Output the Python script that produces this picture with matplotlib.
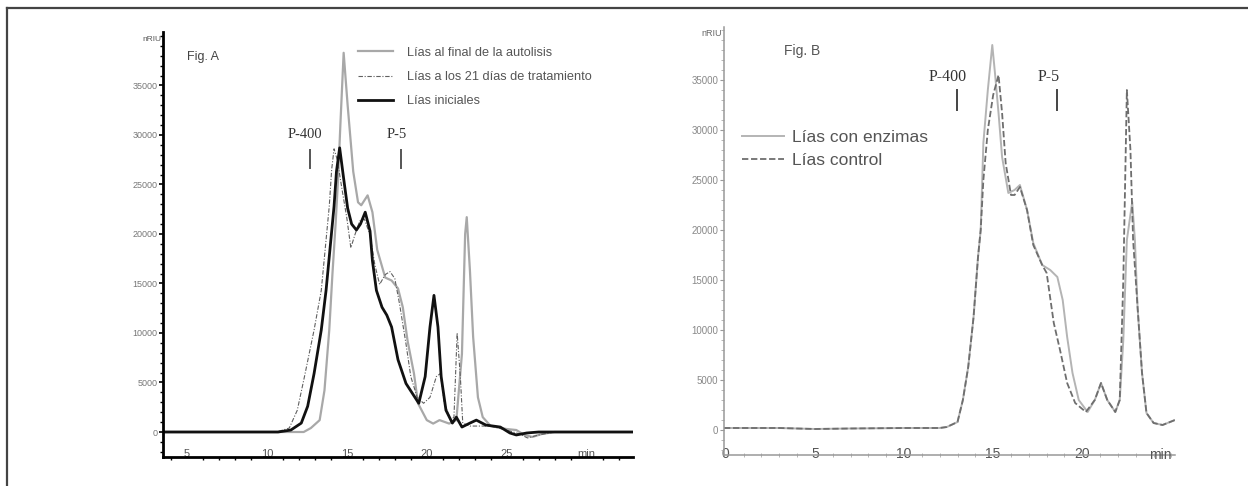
import numpy as np
import matplotlib
matplotlib.use('Agg')
import matplotlib.pyplot as plt
from matplotlib.lines import Line2D
from matplotlib.ticker import MultipleLocator

plt.rcParams['font.family'] = ['Liberation Sans', 'DejaVu Sans']

# ---- Fig. A data (time in min, signal in nRIU) ----
a_final_x = [3.5, 12.3, 12.75, 13.3, 13.6, 13.9, 14.1, 14.3, 14.45, 14.6, 14.8, 15.05, 15.4, 15.7, 15.9,
             16.3, 16.6, 16.9, 17.4, 17.8, 18.2, 18.5, 18.8, 19.2, 19.45, 20.0, 20.4, 20.8, 21.4, 21.85,
             22.2, 22.4, 22.5, 22.7, 22.9, 23.2, 23.5, 24.0, 25.0, 25.6, 26.1, 26.6, 27.2, 28.0, 33.0]
a_final_y = [0, 0, 400, 1200, 4200, 10300, 16000, 21100, 25500, 31200, 38300, 33000, 26300, 23200, 22900,
             23900, 22200, 18400, 15600, 15300, 14500, 12600, 9200, 5900, 2900, 1200, 850, 1200, 850, 1200,
             7900, 20000, 21700, 16300, 9600, 3500, 1500, 600, 300, 200, -300, -500, -200, 0, 0]

a_21d_x = [3.5, 10.6, 11.4, 11.9, 12.35, 12.95, 13.4, 13.7, 13.9, 14.05, 14.2, 14.4, 14.7, 15.0, 15.25, 15.5,
           15.8, 16.1, 16.45, 16.75, 17.05, 17.4, 17.7, 18.0, 18.3, 18.7, 19.0, 19.4, 19.8, 20.2, 20.6,
           20.85, 21.1, 21.5, 21.7, 21.9, 22.1, 22.25, 22.7, 24.0, 25.2, 25.8, 26.3, 27.0, 28.0, 33.0]
a_21d_y = [0, 0, 400, 2200, 5600, 10300, 14300, 19400, 22800, 26500, 28600, 27500, 24500, 21600, 18600, 19900,
           21300, 21500, 19900, 16900, 14900, 15900, 16200, 15500, 12900, 8900, 5600, 3500, 2900, 3500, 5600,
           5900, 2900, 1200, 1500, 10000, 5600, 900, 600, 600, 100, -200, -600, -300, 0, 0]

a_init_x = [3.5, 10.7, 11.5, 12.15, 12.55, 12.95, 13.4, 13.7, 14.0, 14.2, 14.35, 14.55, 14.8, 15.05, 15.3,
            15.6, 15.85, 16.15, 16.45, 16.6, 16.85, 17.2, 17.5, 17.8, 18.2, 18.7, 19.1, 19.5, 19.9, 20.2,
            20.45, 20.7, 20.9, 21.2, 21.6, 21.85, 22.2, 22.7, 23.1, 23.7, 24.6, 25.2, 25.6, 26.25, 27.0, 33.0]
a_init_y = [0, 0, 200, 900, 2600, 5900, 10300, 14300, 19400, 22800, 26300, 28700, 25600, 22600, 21000,
            20400, 21000, 22200, 20300, 17300, 14300, 12600, 11800, 10600, 7300, 4900, 3900, 2900, 5600, 10600,
            13800, 10600, 5600, 2200, 900, 1500, 500, 900, 1200, 700, 500, -100, -300, -100, 0, 0]

# ---- Fig. B data ----
b_enz_x = [-0.1, 3.0, 5.0, 7.0, 10.0, 12.0, 12.4, 13.0, 13.3, 13.6, 13.9, 14.15, 14.3, 14.45, 14.7, 14.95,
           15.1, 15.3, 15.5, 15.85, 16.2, 16.5, 16.9, 17.25, 17.75, 18.2, 18.6, 18.9, 19.15, 19.45, 19.8,
           20.3, 20.7, 21.05, 21.4, 21.85, 22.1, 22.3, 22.5, 22.8, 22.95, 23.1, 23.35, 23.6, 24.0, 24.5, 25.2]
b_enz_y = [200, 200, 100, 150, 200, 200, 300, 800, 3000, 6300, 11300, 17300, 20000, 28700, 34000, 38500,
           35700, 31700, 27300, 23700, 24000, 24500, 22000, 18700, 16500, 16000, 15300, 13000, 9300, 5700, 3000,
           1800, 3000, 4700, 3000, 1800, 3000, 9000, 19000, 22800, 19000, 12300, 5700, 1700, 700, 500, 1000]

b_ctl_x = [-0.1, 3.0, 5.0, 7.0, 10.0, 12.0, 12.4, 13.0, 13.3, 13.6, 13.9, 14.15, 14.3, 14.45, 14.7, 15.0,
           15.3, 15.5, 15.7, 16.0, 16.2, 16.5, 16.9, 17.25, 17.75, 18.0, 18.4, 18.75, 19.15, 19.6, 20.2,
           20.7, 21.05, 21.4, 21.85, 22.1, 22.3, 22.5, 22.7, 22.85, 23.1, 23.35, 23.6, 24.0, 24.5, 25.2]
b_ctl_y = [200, 200, 100, 150, 200, 200, 300, 800, 3000, 6300, 11300, 17300, 20000, 25000, 30000, 33500,
           35500, 31700, 26700, 23500, 23500, 24300, 22000, 18500, 16500, 15700, 10700, 8000, 4700, 2700, 1800,
           3000, 4700, 3000, 1800, 3000, 15000, 34000, 28000, 19000, 12300, 5700, 1700, 700, 500, 1000]

# standard markers (x position, label)
a_std_x = [12.7, 18.4]
b_std_x = [12.95, 18.6]
std_labels = ['P-400', 'P-5']

fig = plt.figure(figsize=(12.48, 4.86), dpi=100)

# page frame (top and left rules)
fig.add_artist(Line2D([7/1248, 7/1248], [0, 1 - 8.5/486], color='#444444', lw=1.6))
fig.add_artist(Line2D([7/1248, 1], [1 - 8.5/486, 1 - 8.5/486], color='#444444', lw=1.6))

# ---------------- Fig. A ----------------
axA = fig.add_axes([163/1248, 29/486, 470/1248, 425/486])
axA.plot(a_final_x, a_final_y, color='#a8a8a8', lw=1.6, label='Lías al final de la autolisis')
axA.plot(a_21d_x, a_21d_y, color='#606060', lw=0.8, dashes=(4, 1.5, 1, 1.5),
         label='Lías a los 21 días de tratamiento')
axA.plot(a_init_x, a_init_y, color='#111111', lw=2.0, label='Lías iniciales')
axA.set_xlim(3.5, 32.9)
axA.set_ylim(-2525, 40400)
for s in ['top', 'right']:
    axA.spines[s].set_visible(False)
for s in ['left', 'bottom']:
    axA.spines[s].set_linewidth(2)
axA.set_yticks(np.arange(0, 35001, 5000))
axA.set_yticklabels([str(v) for v in range(0, 35001, 5000)])
axA.yaxis.set_minor_locator(MultipleLocator(1000))
axA.set_xticks([5, 10, 15, 20, 25, 30])
axA.set_xticklabels(['5', '10', '15', '20', '25', 'min'])
axA.xaxis.set_minor_locator(MultipleLocator(1))
axA.tick_params(axis='y', which='major', labelsize=6.5, labelcolor='#777777', length=3, width=1.2, pad=1)
axA.tick_params(axis='y', which='minor', length=2, width=1)
axA.tick_params(axis='x', which='major', labelsize=8, labelcolor='#555555', length=0, pad=-6)
axA.tick_params(axis='x', which='minor', direction='out', length=2, width=1)
axA.text(-0.004, 39600, 'nRIU', transform=axA.get_yaxis_transform(), ha='right', va='center',
         fontsize=6, color='#555555')
axA.text(5.0, 37900, 'Fig. A', fontsize=9, color='#444444', va='center')
for xs, lab in zip(a_std_x, std_labels):
    axA.text(xs - 0.3, 30000, lab, family='Liberation Serif', fontsize=10.5, ha='center', va='center',
             color='#333333')
    axA.plot([xs, xs], [26700, 28500], color='#555555', lw=1.4)
legA = axA.legend(loc='upper left', bbox_to_anchor=(0.415, 0.965), frameon=False, fontsize=9.2,
                  handlelength=2.7, handletextpad=1.1, labelspacing=0.95, borderpad=0, borderaxespad=0)
for t in legA.get_texts():
    t.set_color('#555555')

# ---------------- Fig. B ----------------
axB = fig.add_axes([724/1248, 31/486, 451/1248, 428/486])
axB.plot(b_enz_x, b_enz_y, color='#b4b4b4', lw=1.4, label='Lías con enzimas')
axB.plot(b_ctl_x, b_ctl_y, color='#6e6e6e', lw=1.3, dashes=(3.5, 1.5), label='Lías control')
axB.set_xlim(-0.1, 25.2)
axB.set_ylim(-2500, 40300)
for s in ['top', 'right']:
    axB.spines[s].set_visible(False)
for s in ['left', 'bottom']:
    axB.spines[s].set_color('#999999')
    axB.spines[s].set_linewidth(1.1)
axB.set_yticks(np.arange(0, 35001, 5000))
axB.set_yticklabels([str(v) for v in range(0, 35001, 5000)])
axB.yaxis.set_minor_locator(MultipleLocator(1000))
axB.set_xticks([0, 5, 10, 15, 20])
axB.xaxis.set_minor_locator(MultipleLocator(1))
axB.tick_params(axis='y', which='major', labelsize=7, labelcolor='#888888', color='#999999', length=3, pad=1)
axB.tick_params(axis='y', which='minor', color='#aaaaaa', length=2)
axB.tick_params(axis='x', which='major', labelsize=10, labelcolor='#555555', length=0, pad=-6)
axB.tick_params(axis='x', which='minor', color='#aaaaaa', direction='inout', length=3)
axB.text(24.4, 0, 'min', transform=axB.get_xaxis_transform(), ha='center', va='center',
         fontsize=10, color='#555555')
axB.text(-0.004, 39700, 'nRIU', transform=axB.get_yaxis_transform(), ha='right', va='center',
         fontsize=6.5, color='#666666')
axB.text(3.25, 37900, 'Fig. B', fontsize=10, color='#555555', va='center')
for xs, lab in zip(b_std_x, std_labels):
    axB.text(xs - 0.5, 35300, lab, family='Liberation Serif', fontsize=11.5, ha='center', va='center',
             color='#333333')
    axB.plot([xs, xs], [32000, 34000], color='#444444', lw=1.4)
legB = axB.legend(loc='upper left', bbox_to_anchor=(0.04, 0.76), frameon=False, fontsize=12.5,
                  handlelength=2.4, handletextpad=0.5, labelspacing=0.45, borderpad=0, borderaxespad=0)
for t in legB.get_texts():
    t.set_color('#555555')

fig.savefig('out.png', dpi=100)
